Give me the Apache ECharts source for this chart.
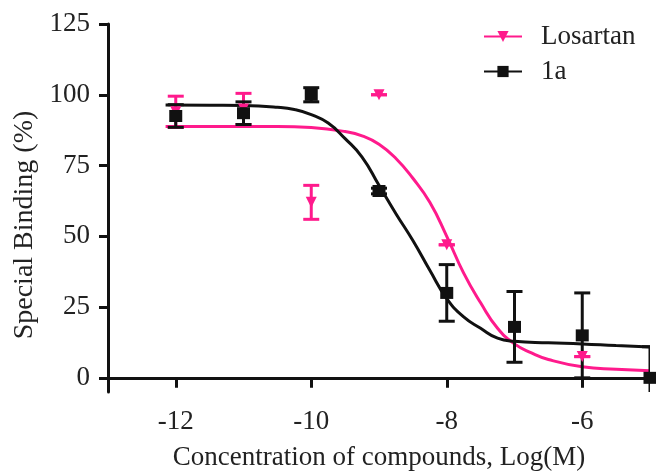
<!DOCTYPE html>
<html>
<head>
<meta charset="utf-8">
<script src="https://cdn.jsdelivr.net/npm/echarts@6/dist/echarts.min.js"></script>
<style>
  html, body { margin: 0; padding: 0; background: #fff; }
  #chart { width: 656px; height: 472px; }
</style>
</head>
<body>
<div id="chart"></div>
<script>
  // measured points (mean, SEM)
  const losartanX = [-12, -11, -10, -9, -8, -6];
  const losartanY = [94, 95, 62, 100, 47, 7.5];
  const losartanErr = [5.5, 5.5, 6, 0, 0, 0];

  const cmpX = [-12, -11, -10, -9, -8, -7, -6, -5];
  const cmpY = [92.5, 93.5, 100, 66, 30, 18, 15, 0];
  const cmpErr = [4, 4, 2.5, 1, 10, 12.5, 15, 11];

  // fitted curves
  const losartanFitX = [-12.15, -11.5, -11, -10.5, -10, -9.5, -9.25, -9, -8.75, -8.5, -8.25, -8, -7.75, -7.5, -7.25, -7, -6.75, -6.5, -6, -5.5, -5];
  const losartanFitY = [88.8, 88.8, 88.8, 88.8, 88.4, 87, 85.5, 82.5, 77.5, 70.5, 62, 50, 37, 26.5, 17.5, 12, 8.8, 6.5, 3.9, 3, 2.5];

  const cmpFitX = [-12.15, -11.5, -11, -10.5, -10.25, -10, -9.75, -9.5, -9.25, -9, -8.75, -8.5, -8.25, -8, -7.75, -7.5, -7.25, -7, -6.5, -6, -5.5, -5];
  const cmpFitY = [96.4, 96.3, 96.2, 95.6, 94.8, 93, 90, 84.5, 78, 68, 58, 48.5, 38, 28, 21.5, 17.5, 14, 12.9, 12.4, 12, 11.4, 10.9];

  const xTicks = [-12, -10, -8, -6];
  const yTicks = [0, 25, 50, 75, 100, 125];

  const PINK = '#ff1a8c';
  const BLACK = '#111111';
  const FONT = "'Liberation Serif', 'Times New Roman', serif";

  const chart = echarts.init(document.getElementById('chart'));

  function zip (xs, ys) {
    return xs.map((x, i) => [x, ys[i]]);
  }

  function errorSeries (xs, ys, errs, color) {
    return {
      type: 'custom',
      silent: true,
      clip: true,
      z: 3,
      data: xs.map((x, i) => [x, ys[i] - errs[i], ys[i] + errs[i]]),
      renderItem: function (params, api) {
        const lo = api.coord([api.value(0), api.value(1)]);
        const hi = api.coord([api.value(0), api.value(2)]);
        const half = 8;
        const style = { stroke: color, lineWidth: 3 };
        return {
          type: 'group',
          children: [
            { type: 'line', shape: { x1: lo[0], y1: lo[1], x2: hi[0], y2: hi[1] }, style: style },
            { type: 'line', shape: { x1: lo[0] - half, y1: lo[1], x2: lo[0] + half, y2: lo[1] }, style: style },
            { type: 'line', shape: { x1: hi[0] - half, y1: hi[1], x2: hi[0] + half, y2: hi[1] }, style: style }
          ]
        };
      }
    };
  }

  function curveSeries (name, xs, ys, color, symbol, size) {
    return {
      name: name,
      type: 'line',
      data: zip(xs, ys),
      smooth: true,
      symbol: symbol,
      symbolRotate: symbol === 'triangle' ? 180 : 0,
      symbolSize: size,
      showSymbol: false,
      itemStyle: { color: color },
      lineStyle: { color: color, width: 3 },
      z: 2
    };
  }

  const axisText = { color: '#222', fontFamily: FONT, fontSize: 27 };

  chart.setOption({
    animation: false,
    grid: { left: 108, right: 6, top: 24, bottom: 80, outerBoundsMode: 'none' },
    legend: {
      orient: 'vertical',
      left: 483,
      top: 23,
      padding: 0,
      itemWidth: 38,
      itemHeight: 14,
      itemGap: 8,
      data: ['Losartan', '1a'],
      textStyle: { color: '#222', fontFamily: FONT, fontSize: 27, padding: [0, 0, 0, 14] }
    },
    xAxis: {
      type: 'value',
      min: -13,
      max: -5,
      name: 'Concentration of compounds, Log(M)',
      nameLocation: 'middle',
      nameGap: 52,
      nameTextStyle: axisText,
      axisLine: { lineStyle: { color: BLACK, width: 3 } },
      axisTick: { customValues: xTicks, length: 10, lineStyle: { color: BLACK, width: 3 } },
      axisLabel: Object.assign({ customValues: xTicks, margin: 16 }, axisText),
      splitLine: { show: false }
    },
    yAxis: {
      type: 'value',
      min: -5,
      max: 125,
      name: 'Special Binding (%)',
      nameLocation: 'middle',
      nameGap: 69,
      nameTextStyle: Object.assign({}, axisText, { fontSize: 28, padding: [0, 34, 0, 0] }),
      axisLine: { show: true, lineStyle: { color: BLACK, width: 3 } },
      axisTick: { show: true, customValues: yTicks, length: 9, lineStyle: { color: BLACK, width: 3 } },
      axisLabel: Object.assign({ customValues: yTicks, margin: 18 }, axisText),
      splitLine: { show: false }
    },
    series: [
      curveSeries('Losartan', losartanFitX, losartanFitY, PINK, 'triangle', 11),
      curveSeries('1a', cmpFitX, cmpFitY, BLACK, 'rect', 12),
      errorSeries(losartanX, losartanY, losartanErr, PINK),
      errorSeries(cmpX, cmpY, cmpErr, BLACK),
      {
        name: 'Losartan',
        type: 'scatter',
        data: zip(losartanX, losartanY),
        symbol: 'triangle',
        symbolRotate: 180,
        symbolSize: 11,
        itemStyle: { color: PINK, opacity: 1 },
        z: 4
      },
      {
        name: '1a',
        type: 'scatter',
        data: zip(cmpX, cmpY),
        symbol: 'rect',
        symbolSize: [13, 12],
        itemStyle: { color: BLACK, opacity: 1 },
        z: 5
      }
    ]
  });

  window.addEventListener('resize', function () {
    chart.resize();
  });
</script>
</body>
</html>
